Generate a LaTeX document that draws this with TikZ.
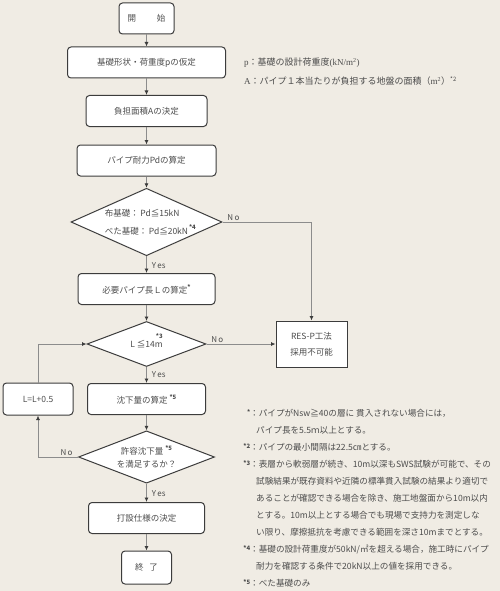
\documentclass[tikz,border=0pt]{standalone}
\usepackage{fontspec}
\setmainfont{Noto Sans CJK JP}
\newfontfamily\romanfont{Liberation Serif}
\usetikzlibrary{positioning}
\usetikzlibrary{shapes.geometric}
\usetikzlibrary{arrows.meta}
\definecolor{bgbeige}{HTML}{F0ECE4}
\definecolor{edgegray}{HTML}{3C3C3C}
\definecolor{linegray}{HTML}{8C8C8C}
\definecolor{textgray}{HTML}{4C4C4C}
\newcommand{\boxfont}{\fontsize{8.5}{13}\selectfont}
\newcommand{\labfont}{\fontsize{8}{10}\selectfont}
\newcommand{\legfont}{\fontsize{9}{11}\selectfont}
\newcommand{\notefont}{\fontsize{8.6}{17}\selectfont}
\newcommand{\smark}[1]{\raisebox{4pt}{\fontsize{6}{6}\selectfont\bfseries *#1}}
\newcommand{\nmark}[1]{\makebox[7pt][r]{\raisebox{1.5pt}{\fontsize{6}{6}\selectfont\bfseries *#1}}}
\tikzset{>={Latex[length=4.5pt,width=4pt,color=edgegray]}}
\tikzset{proc/.style={draw=edgegray, fill=white, rounded corners=3.5pt, line width=1pt, minimum height=31pt, inner sep=0pt, text=textgray, font=\boxfont}}
\tikzset{decide/.style={draw=edgegray, fill=white, diamond, aspect=2, inner sep=0pt, line width=1pt, text=textgray, font=\boxfont}}
\tikzset{flow/.style={draw=linegray, line width=0.8pt, ->}}
\tikzset{ed/.style={inner sep=1pt, text=textgray, font=\labfont}}
\tikzset{legend/.style={anchor=west, inner sep=0pt, text=textgray, font=\legfont}}

\begin{document}
\begin{tikzpicture}[on grid, x=1pt, y=-1pt]
        \fill[bgbeige] (0,0) rectangle (500,591);
        \useasboundingbox (0,0) rectangle (500,591);

        % main column
        \node[proc, minimum width=55pt] (start) at (146.5,18.5) {開\hspace{21pt}始};
        \node[proc, minimum width=158pt, below=44pt of start] (assume) {基礎形状・荷重度pの仮定};
        \node[proc, minimum width=121pt, below=48.5pt of assume] (area) {負担面積Aの決定};
        \node[proc, minimum width=139pt, below=49.5pt of area] (pd) {パイプ耐力Pdの算定};
        \node[decide, minimum width=151pt, minimum height=60pt, below=61.5pt of pd, align=left] (check1)
         {布基礎：\,Pd≦15kN\\[5pt]べた基礎：\,Pd≦20kN\rlap{\raisebox{5pt}{\fontsize{6}{6}\selectfont\bfseries\,*4}}};
        \node[proc, minimum width=137pt, below=67pt of check1] (length) {必要パイプ長Ｌの算定\smark{}};
        \node[decide, minimum width=119pt, minimum height=45pt, below=55pt of length] (check2)
         {L ≦14m\smash{\llap{\raisebox{9pt}{\fontsize{6}{6}\selectfont\bfseries *3}}}};
        \node[proc, minimum width=118pt, below=55pt of check2] (settle) {沈下量の算定\ \smark{5}};
        \node[decide, minimum width=136pt, minimum height=52pt, below=58pt of settle, align=center] (check3)
         {許容沈下量\ \smark{5}\\を満足するか？};
        \node[proc, minimum width=116pt, below=61pt of check3] (spec) {打設仕様の決定};
        \node[proc, minimum width=50pt, minimum height=33pt, below=49.5pt of spec] (finish) {終\hspace{6pt}了};

        % side boxes
        \node[proc, rounded corners=0pt, minimum width=71pt, minimum height=46pt, right=165pt of check2, align=center] (resp)
         {RES-P工法\\[3pt]採用不可能};
        \node[proc, minimum width=70pt, minimum height=32pt, left=108.5pt of settle] (retry) {L=L+0.5};

        \draw[flow] (start) -- (assume);
        \draw[flow] (assume) -- (area);
        \draw[flow] (area) -- (pd);
        \draw[flow] (pd) -- (check1);
        \draw[flow] (check1) -- node[ed, anchor=west, xshift=4pt, pos=0.55] {Y\,es} (length);
        \draw[flow] (check1.east) -| node[ed, anchor=south west, pos=0.02] {N\,o} (resp.north);
        \draw[flow] (length) -- (check2);
        \draw[flow] (check2) -- node[ed, anchor=west, xshift=4pt, pos=0.5] {Y\,es} (settle);
        \draw[flow] (check2.east) -- node[ed, anchor=south west, pos=0.05] {N\,o} (resp.west);
        \draw[flow] (settle) -- (check3);
        \draw[flow] (check3) -- node[ed, anchor=west, xshift=4pt, pos=0.55] {Y\,es} (spec);
        \draw[flow] (check3.west) -| node[ed, anchor=south east, pos=0.05] {N\,o} (retry.south);
        \draw[flow] (retry.north) |- (check2.west);
        \draw[flow] (spec) -- (finish);

        % legend
        \node[legend] (legp) at (244,63) {{\romanfont p}：基礎の設計荷重度{\romanfont (kN/m\textsuperscript{2})}};
        \node[legend] (lega) at (244,81) {{\romanfont A}：パイプ１本当たりが負担する地盤の面積（{\romanfont m\textsuperscript{2}}）\textsuperscript{*2}};

        % notes
        \node[anchor=north west, align=left, inner sep=0pt, text=textgray, font=\notefont] (notes) at (243,409)
         {\nmark{}：パイプがNsw≧40の層に 貫入されない場合には，\\
          \hspace*{13pt}パイプ長を5.5ｍ以上とする。\\
          \nmark{2}：パイプの最小間隔は22.5㎝とする。\\
          \nmark{3}：表層から軟弱層が続き、10m以深もSWS試験が可能で、その\\
          \hspace*{13pt}試験結果が既存資料や近隣の標準貫入試験の結果より適切で\\
          \hspace*{13pt}あることが確認できる場合を除き、施工地盤面から10m以内\\
          \hspace*{13pt}とする。10m以上とする場合でも現場で支持力を測定しな\\
          \hspace*{13pt}い限り、摩擦抵抗を考慮できる範囲を深さ10mまでとする。\\
          \nmark{4}：基礎の設計荷重度が50kN/㎡を超える場合，施工時にパイプ\\
          \hspace*{13pt}耐力を確認する条件で20kN以上の値を採用できる。\\
          \nmark{5}：べた基礎のみ};
\end{tikzpicture}
\end{document}
